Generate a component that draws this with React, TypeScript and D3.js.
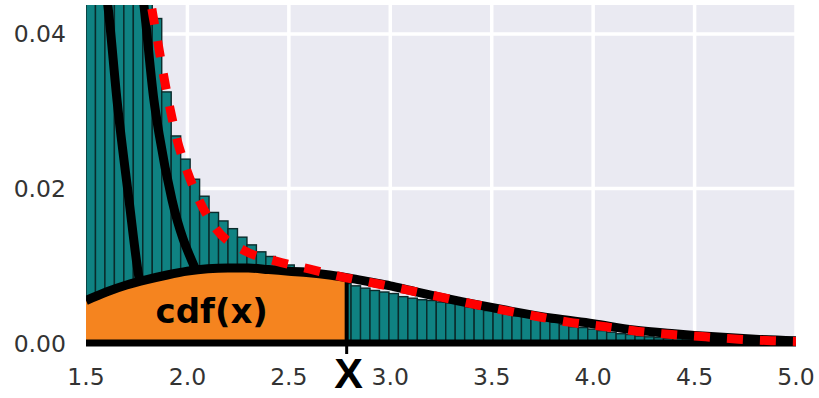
import React from "react";
import * as d3 from "d3";

// axis ticks
const xTicks = [1.5, 2.0, 2.5, 3.0, 3.5, 4.0, 4.5, 5.0];
const yTicks = [0, 0.02, 0.04];

// histogram (75 equal bins from 1.5 to 5.0)
const binStart = 1.5;
const binWidth = 3.5 / 75;
const histHeights = [
  0.13, 0.11, 0.093, 0.079, 0.067, 0.057, 0.048,
  0.042, 0.0325, 0.0268, 0.0238, 0.0212, 0.019, 0.0169, 0.0158, 0.0148, 0.0137, 0.0127, 0.0118, 0.0112,
  0.0106, 0.0101, 0.0097, 0.0093, 0.009, 0.0086, 0.0082, 0.0077,
  0.0074, 0.0071, 0.0068, 0.0066, 0.0064, 0.006, 0.0058, 0.0056, 0.0055, 0.0053,
  0.0052, 0.005, 0.0047, 0.0045, 0.0042, 0.004, 0.0038, 0.0035, 0.0034, 0.0031,
  0.003, 0.0027, 0.0024, 0.0021, 0.002, 0.0018, 0.0016, 0.0014, 0.0012, 0.0011,
  0.0009, 0.0008, 0.0007, 0.0006, 0.0006, 0.0005, 0.0004, 0.0004, 0.0003, 0.0003,
  0.0002, 0.0002, 0.0002, 0.0001, 0.0001, 0.0001, 0.0001,
];

// wide hump density (black, orange underneath up to X)
const humpX = [1.5, 1.6, 1.7, 1.8, 1.9, 2.0, 2.1, 2.2, 2.3, 2.4, 2.5, 2.6, 2.7, 2.8, 2.9, 3.0, 3.1, 3.2, 3.4, 3.6, 3.8, 4.0, 4.2, 4.4, 4.6, 4.8, 5.0];
const humpY = [0.0055, 0.0066, 0.0075, 0.0082, 0.0088, 0.0093, 0.0096, 0.0097, 0.0097, 0.0095, 0.0093, 0.0091, 0.0088, 0.0084, 0.0079, 0.0074, 0.0068, 0.0062, 0.0051, 0.0041, 0.0032, 0.0025, 0.0017, 0.0012, 0.0008, 0.0005, 0.0003];

// two steep densities on the left
const steep1X = [1.57, 1.608, 1.653, 1.712, 1.761, 1.8, 1.86, 1.95];
const steep1Y = [0.05, 0.0436, 0.0314, 0.0185, 0.0085, 0.0045, 0.002, 0.0008];
const steep2X = [1.755, 1.786, 1.835, 1.86, 1.924, 2.042, 2.12, 2.25];
const steep2Y = [0.05, 0.0436, 0.0314, 0.0271, 0.0185, 0.0094, 0.0055, 0.0025];

// total density (red dotted)
const totalX = [1.8, 1.825, 1.855, 1.88, 1.909, 1.948, 1.998, 2.052, 2.14, 2.278, 2.436, 2.599, 2.756, 2.929, 3.076, 3.239, 3.397, 3.569, 3.731, 3.879, 4.062, 4.224, 4.387, 4.554, 4.717, 4.879, 5.0];
const totalY = [0.0475, 0.0432, 0.0388, 0.035, 0.031, 0.0264, 0.0223, 0.0188, 0.0148, 0.012, 0.0106, 0.0096, 0.0086, 0.0077, 0.0069, 0.006, 0.0051, 0.0042, 0.0034, 0.0027, 0.0021, 0.0015, 0.0011, 0.0008, 0.0005, 0.0003, 0.0002];

const cdfX = 2.785;

const W = 819;
const H = 398;
const tickFont = "'DejaVu Sans', sans-serif";

const zip = (xs: number[], ys: number[]) => xs.map((v, i) => [v, ys[i]] as [number, number]);

const App: React.FC = () => {
  const x = d3.scaleLinear().domain([1.5, 5]).range([86, 796]);
  const y = d3.scaleLinear().domain([0, 0.04375]).range([343, 5]);

  const line = d3
    .line<[number, number]>()
    .x(d => x(d[0]))
    .y(d => y(d[1]))
    .curve(d3.curveMonotoneX);
  const area = d3
    .area<[number, number]>()
    .x(d => x(d[0]))
    .y0(y(0))
    .y1(d => y(d[1]))
    .curve(d3.curveMonotoneX);

  const hump = zip(humpX, humpY);
  const humpArea = area(hump) as string;

  return (
    <svg width={W} height={H} style={{ position: "fixed", left: 0, top: 0, background: "#fff" }}>
      <defs>
        <clipPath id="plot">
          <rect x={x(1.5)} y={y.range()[1]} width={x(5) - x(1.5)} height={y(0) - y.range()[1] + 8} />
        </clipPath>
        <clipPath id="cdf-region">
          <rect x={x(1.5)} y={0} width={x(cdfX) - x(1.5)} height={H} />
        </clipPath>
        <clipPath id="under-hump">
          <path d={humpArea} />
        </clipPath>
      </defs>

      {/* 배경 */}
      <rect x={x(1.5)} y={y.range()[1]} width={x(5) - x(1.5)} height={y(0) - y.range()[1]} fill="#eaeaf2" />

      {/* 그리드 */}
      {xTicks.map(t => (
        <line key={"gx" + t} x1={x(t)} x2={x(t)} y1={y.range()[1]} y2={y(0)} stroke="#fff" strokeWidth={3.5} />
      ))}
      {yTicks.map(t => (
        <line key={"gy" + t} x1={x(1.5)} x2={x(5)} y1={y(t)} y2={y(t)} stroke="#fff" strokeWidth={3.5} />
      ))}

      <g clipPath="url(#plot)">
        {/* 히스토그램 */}
        {histHeights.map((h, i) => {
          const x0 = binStart + i * binWidth;
          return (
            <rect
              key={i}
              x={x(x0)}
              y={y(h)}
              width={x(x0 + binWidth) - x(x0)}
              height={y(0) - y(h)}
              fill="#0f8282"
              stroke="#0a2b2b"
              strokeWidth={1.4}
            />
          );
        })}

        {/* 가파른 곡선 두 개 */}
        <path d={line(zip(steep1X, steep1Y)) as string} fill="none" stroke="#000" strokeWidth={9} />
        <path d={line(zip(steep2X, steep2Y)) as string} fill="none" stroke="#000" strokeWidth={9} />

        {/* cdf 영역 */}
        <g clipPath="url(#cdf-region)">
          <path d={humpArea} fill="#f5841f" />
        </g>

        {/* X 위치 세로선 */}
        <g clipPath="url(#under-hump)">
          <line x1={x(cdfX)} x2={x(cdfX)} y1={y(0)} y2={y(0.02)} stroke="#000" strokeWidth={4} />
        </g>

        <path d={line(hump) as string} fill="none" stroke="#000" strokeWidth={9} />

        {/* 바닥선 */}
        <line x1={x(1.5)} x2={x(5)} y1={y(0)} y2={y(0)} stroke="#000" strokeWidth={7} />

        {/* 전체 밀도 (빨간 점선) */}
        <path
          d={line(zip(totalX, totalY)) as string}
          fill="none"
          stroke="#ff0000"
          strokeWidth={9}
          strokeDasharray="16 17"
        />
      </g>

      <text
        x={x(2.12)}
        y={y(0.0026)}
        textAnchor="middle"
        fontFamily="'DejaVu Sans', sans-serif"
        fontWeight="bold"
        fontSize={34}
        fill="#000"
      >
        cdf(x)
      </text>

      {/* 축 눈금 라벨 */}
      {xTicks.map(t => (
        <text key={"tx" + t} x={x(t)} y={385} textAnchor="middle" fontFamily={tickFont} fontSize={23.5} fill="#333">
          {d3.format(".1f")(t)}
        </text>
      ))}
      {yTicks.map(t => (
        <text key={"ty" + t} x={66} y={y(t) + 8.5} textAnchor="end" fontFamily={tickFont} fontSize={23.5} fill="#333">
          {d3.format(".2f")(t)}
        </text>
      ))}

      {/* X 눈금 */}
      <line x1={x(cdfX)} x2={x(cdfX)} y1={y(0)} y2={y(0) + 11} stroke="#000" strokeWidth={3} />
      <text
        x={x(cdfX) + 2}
        y={388}
        textAnchor="middle"
        fontFamily="'Liberation Sans', Arial, sans-serif"
        fontWeight="bold"
        fontSize={43}
        fill="#000"
      >
        X
      </text>
    </svg>
  );
};

export default App;
